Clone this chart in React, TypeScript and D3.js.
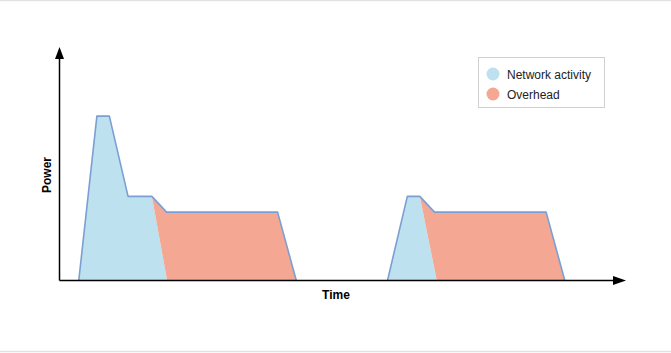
import React from "react";
import * as d3 from "d3";

// Time/power values (arbitrary units)
const networkBurst1: [number, number][] = [
  [3.4, 0], [6.6, 7.07], [8.8, 7.07], [12.1, 3.62], [16.3, 3.62], [19.0, 0],
];
const overhead1: [number, number][] = [
  [16.3, 3.62], [18.9, 2.94], [38.5, 2.94], [41.8, 0], [19.0, 0],
];
const networkBurst2: [number, number][] = [
  [57.9, 0], [61.4, 3.62], [63.6, 3.62], [66.6, 0],
];
const overhead2: [number, number][] = [
  [63.6, 3.62], [66.2, 2.94], [85.9, 2.94], [89.2, 0], [66.6, 0],
];
const legendItems = ["Network activity", "Overhead"];
const legendColors = ["#bde1ee", "#f4a793"];

const W = 671;
const H = 353;
const x0 = 59.5;
const xEnd = 626;
const yBase = 280.5;
const yTop = 47;

export default function App() {
  React.useEffect(() => {
    document.body.style.margin = "0";
  }, []);
  const x = d3.scaleLinear().domain([0, 100]).range([x0, xEnd]);
  const y = d3.scaleLinear().domain([0, 10]).range([yBase, 48]);
  const line = d3
    .line<[number, number]>()
    .x((d) => x(d[0]))
    .y((d) => y(d[1]));
  const poly = (pts: [number, number][]) => line(pts)! + "Z";
  // outline: outer contour (top edge) of each burst
  const outline1: [number, number][] = [
    networkBurst1[0], networkBurst1[1], networkBurst1[2], networkBurst1[3], networkBurst1[4],
    overhead1[1], overhead1[2], overhead1[3],
  ];
  const outline2: [number, number][] = [
    networkBurst2[0], networkBurst2[1], networkBurst2[2],
    overhead2[1], overhead2[2], overhead2[3],
  ];
  const font = "'Liberation Sans', Arial, Helvetica, sans-serif";
  return (
    <svg width={W} height={H} style={{ display: "block" }} fontFamily={font}>
      <rect x={0} y={0} width={W} height={H} fill="#ffffff" />
      <line x1={0} x2={W} y1={0.5} y2={0.5} stroke="#e2e2e2" strokeWidth={1.5} />
      <line x1={0} x2={W} y1={351.5} y2={351.5} stroke="#e2e2e2" strokeWidth={1.5} />

      <path d={poly(networkBurst1)} fill={legendColors[0]} />
      <path d={poly(overhead1)} fill={legendColors[1]} />
      <path d={poly(networkBurst2)} fill={legendColors[0]} />
      <path d={poly(overhead2)} fill={legendColors[1]} />
      <path d={line(outline1)!} fill="none" stroke="#7c9fd3" strokeWidth={1.6} strokeLinejoin="round" />
      <path d={line(outline2)!} fill="none" stroke="#7c9fd3" strokeWidth={1.6} strokeLinejoin="round" />

      {/* axes */}
      <line x1={x0} x2={x0} y1={yBase} y2={yTop + 10} stroke="#000" strokeWidth={1.5} />
      <path d={`M${x0},${yTop} L${x0 - 4.5},${yTop + 12} L${x0 + 4.5},${yTop + 12} Z`} fill="#000" />
      <line x1={x0} x2={xEnd - 10} y1={yBase} y2={yBase} stroke="#000" strokeWidth={1.5} />
      <path d={`M${xEnd},${yBase} L${xEnd - 13},${yBase - 4.5} L${xEnd - 13},${yBase + 4.5} Z`} fill="#000" />

      <text x={336} y={299} textAnchor="middle" fontSize={12} fontWeight="bold" fill="#000">
        Time
      </text>
      <text
        transform={`translate(51,175) rotate(-90)`}
        textAnchor="middle"
        fontSize={12}
        fontWeight="bold"
        fill="#000"
      >
        Power
      </text>

      {/* legend */}
      <rect x={478.5} y={57.5} width={126} height={50} fill="#fff" stroke="#d0d0d0" strokeWidth={1} />
      {legendItems.map((t, i) => (
        <g key={t}>
          <circle cx={493} cy={74 + i * 20} r={6.5} fill={legendColors[i]} />
          <text x={507} y={78.5 + i * 20} fontSize={12} fill="#222">
            {t}
          </text>
        </g>
      ))}
    </svg>
  );
}
